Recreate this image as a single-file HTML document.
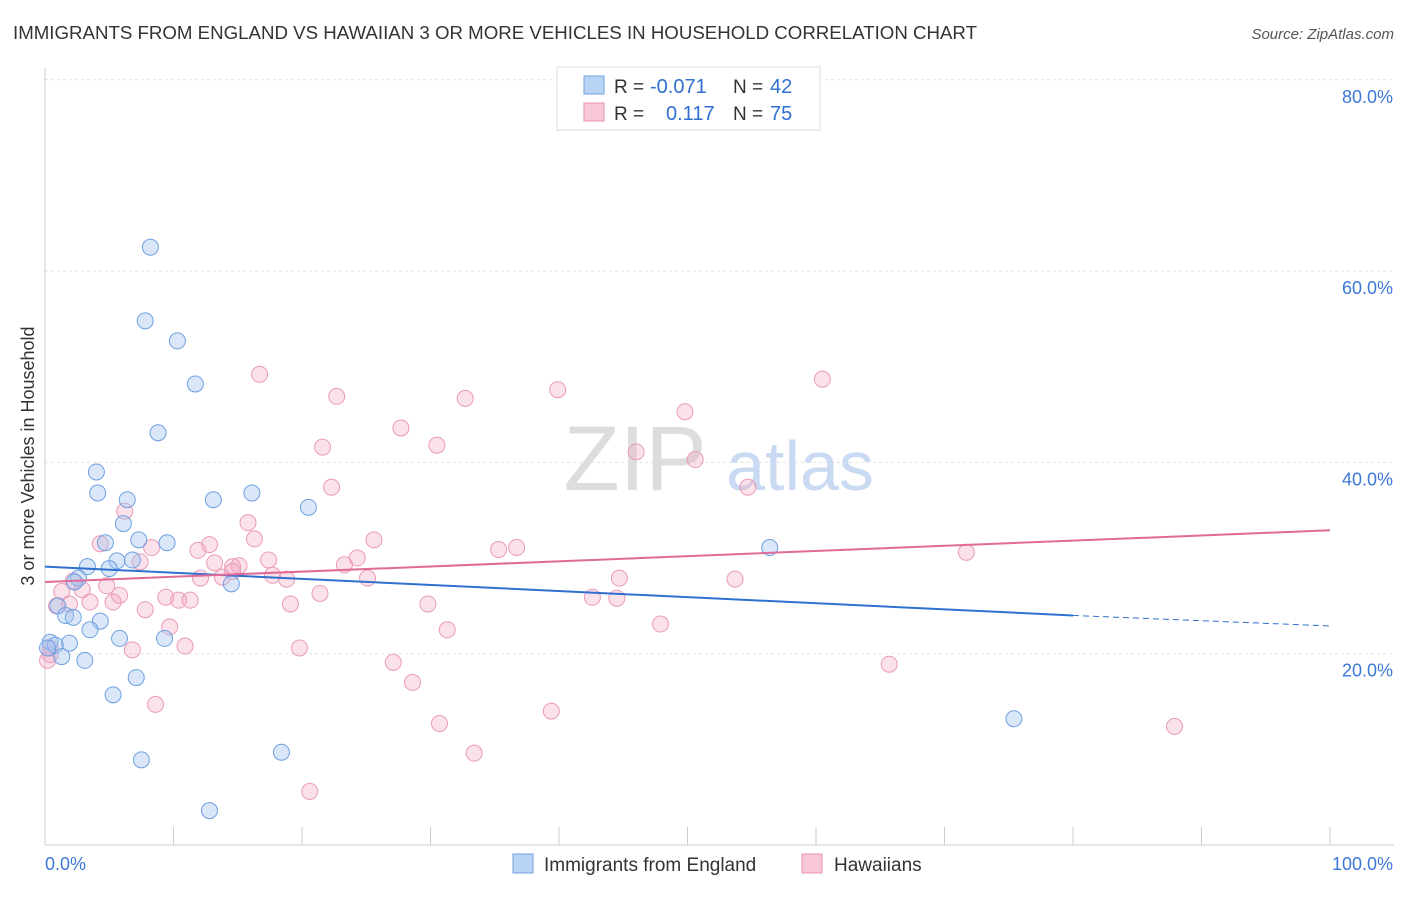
<!DOCTYPE html>
<html><head><meta charset="utf-8"><style>
body{margin:0;background:#fff;font-family:"Liberation Sans",sans-serif;}
svg text{font-family:"Liberation Sans",sans-serif;}
</style></head><body>
<svg id="chart" width="1406" height="892" xmlns="http://www.w3.org/2000/svg">
<text x="13" y="39" font-size="18" fill="#333" textLength="964" lengthAdjust="spacingAndGlyphs">IMMIGRANTS FROM ENGLAND VS HAWAIIAN 3 OR MORE VEHICLES IN HOUSEHOLD CORRELATION CHART</text>
<text x="1394" y="39" font-size="15" fill="#555" text-anchor="end" font-style="italic">Source: ZipAtlas.com</text>
<text transform="translate(34,456) rotate(-90)" font-size="18" fill="#333" text-anchor="middle">3 or more Vehicles in Household</text>
<g id="grid"></g>
<g id="wm">
<text x="635" y="490" font-size="92" fill="#ddd" font-family="Liberation Serif" text-anchor="middle">ZIP</text>
<text x="800" y="490" font-size="70" fill="#c9daf2" text-anchor="middle">atlas</text></g>
<g id="marks"></g>
<g id="legend">
<rect x="557" y="67" width="263" height="63" fill="#fff" stroke="#ddd"/>
<rect x="584" y="76" width="20" height="18" fill="#b9d3f5" stroke="#6fa0e0"/>
<rect x="584" y="103" width="20" height="18" fill="#f9c8d8" stroke="#e890b0"/>
<text x="614" y="93" font-size="19" fill="#333">R =</text>
<text x="650" y="93" font-size="20" fill="#2f6fd0">-0.071</text>
<text x="733" y="93" font-size="19" fill="#333">N =</text>
<text x="770" y="93" font-size="20" fill="#2f6fd0">42</text>
<text x="614" y="120" font-size="19" fill="#333">R =</text>
<text x="666" y="120" font-size="20" fill="#2f6fd0">0.117</text>
<text x="733" y="120" font-size="19" fill="#333">N =</text>
<text x="770" y="120" font-size="20" fill="#2f6fd0">75</text>
</g>
<g>
<rect x="513" y="854" width="20" height="19" fill="#b9d3f5" stroke="#6fa0e0"/>
<text x="544" y="871" font-size="19" fill="#333">Immigrants from England</text>
<rect x="802" y="854" width="20" height="19" fill="#f9c8d8" stroke="#e890b0"/>
<text x="834" y="871" font-size="19" fill="#333">Hawaiians</text>
</g>
</svg>
<script>
const yTicks=[20,40,60,80];
const yTickLabels=["20.0%","40.0%","60.0%","80.0%"];
const blueX=[8.2,7.8,10.3,11.7,8.8,4.0,4.1,6.4,13.1,16.1,20.5,6.1,4.7,7.3,9.5,5.6,6.8,3.3,5.0,2.6,2.3,14.5,1.0,1.6,2.2,4.3,3.5,5.8,9.3,0.4,1.9,0.8,0.2,1.3,3.1,7.1,5.3,7.5,18.4,12.8,56.4,75.4];
const blueY=[62.5,54.8,52.7,48.2,43.1,39.0,36.8,36.1,36.1,36.8,35.3,33.6,31.6,31.9,31.6,29.7,29.8,29.1,28.9,27.9,27.5,27.3,25.0,24.0,23.8,23.4,22.5,21.6,21.6,21.2,21.1,20.9,20.6,19.7,19.3,17.5,15.7,8.9,9.7,3.6,31.1,13.2];
const pinkX=[16.7,22.7,27.7,32.7,39.9,21.6,30.5,46.0,49.8,50.6,54.7,60.5,22.3,15.8,6.2,4.3,8.3,12.8,11.9,16.3,25.6,35.3,36.7,17.4,24.3,23.3,15.1,14.6,13.2,7.4,12.1,13.8,17.7,18.8,25.1,44.7,53.7,71.7,2.2,2.9,1.3,5.8,4.8,9.4,10.4,11.3,5.3,3.5,1.9,0.9,19.1,21.4,29.8,42.6,44.5,7.8,9.7,31.3,47.9,10.9,6.8,19.8,0.4,0.2,27.1,28.6,65.7,8.6,39.4,30.7,33.4,20.6,87.9,0.4,14.6];
const pinkY=[49.2,46.9,43.6,46.7,47.6,41.6,41.8,41.1,45.3,40.3,37.4,48.7,37.4,33.7,34.9,31.5,31.1,31.4,30.8,32.0,31.9,30.9,31.1,29.8,30.0,29.3,29.2,29.1,29.5,29.6,27.9,28.0,28.2,27.8,27.9,27.9,27.8,30.6,27.6,26.7,26.5,26.1,27.1,25.9,25.6,25.6,25.4,25.4,25.2,25.0,25.2,26.3,25.2,25.9,25.8,24.6,22.8,22.5,23.1,20.8,20.4,20.6,20.6,19.3,19.1,17.0,18.9,14.7,14.0,12.7,9.6,5.6,12.4,19.9,28.6];
const blueTrend=[29.1,24.0,22.9];
const blueTrendX=[0,80,100];
const pinkTrend=[27.5,32.9];
const pinkTrendX=[0,100];
const NS="http://www.w3.org/2000/svg";
const X=v=>45+v*12.85, Y=v=>845-v*9.565;
function mk(t,a,p){const e=document.createElementNS(NS,t);for(const k in a)e.setAttribute(k,a[k]);p.appendChild(e);return e;}
const grid=document.getElementById('grid'),marks=document.getElementById('marks');
yTicks.forEach((t,i)=>{
 const l=mk('line',{x1:45,x2:1394,y1:Y(t),y2:Y(t),stroke:'#e2e2e2','stroke-dasharray':'3,3'},grid);
 
 
 const tx=mk('text',{x:1393,y:Y(t)+23,'font-size':18,fill:'#3c78d8','text-anchor':'end'},grid);tx.textContent=yTickLabels[i];
 
 
});
mk('line',{x1:45,x2:45,y1:68,y2:845,stroke:'#ccc'},grid);
mk('line',{x1:45,x2:1394,y1:845,y2:845,stroke:'#ccc'},grid);
for(let i=0;i<=10;i++){const t=mk('line',{x1:X(i*10),x2:X(i*10),y1:827,y2:845,stroke:'#ccc'},grid);
 
 }
let a=mk('text',{x:45,y:870,'font-size':18,fill:'#3c78d8'},grid);a.textContent='0.0%';


a=mk('text',{x:1393,y:870,'font-size':18,fill:'#3c78d8','text-anchor':'end'},grid);a.textContent='100.0%';


pinkX.forEach((x,i)=>{const c=mk('circle',{cx:X(x),cy:Y(pinkY[i]),r:8,fill:'rgba(244,170,195,0.35)',stroke:'#eb9ab8','stroke-width':1},marks);
 
 });
blueX.forEach((x,i)=>{const c=mk('circle',{cx:X(x),cy:Y(blueY[i]),r:8,fill:'rgba(160,196,240,0.4)',stroke:'#6fa0e0','stroke-width':1},marks);
 
 });
let l=mk('line',{x1:X(blueTrendX[0]),y1:Y(blueTrend[0]),x2:X(blueTrendX[1]),y2:Y(blueTrend[1]),stroke:'#2f6fd0','stroke-width':2},marks);


l=mk('line',{x1:X(blueTrendX[1]),y1:Y(blueTrend[1]),x2:X(blueTrendX[2]),y2:Y(blueTrend[2]),stroke:'#2f6fd0','stroke-width':1,'stroke-dasharray':'6,4'},marks);


l=mk('line',{x1:X(pinkTrendX[0]),y1:Y(pinkTrend[0]),x2:X(pinkTrendX[1]),y2:Y(pinkTrend[1]),stroke:'#e06a98','stroke-width':2},marks);


</script>
</body></html>
